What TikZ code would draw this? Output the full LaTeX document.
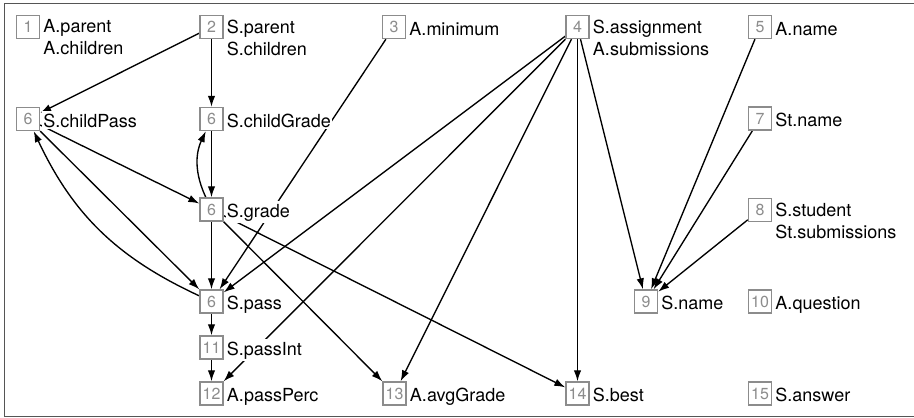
\documentclass[tikz,border=0pt]{standalone}
\usepackage{fontspec}
\setmainfont{TeX Gyre Heros}
\usetikzlibrary{arrows.meta,calc}
\pgfdeclarelayer{background}
\pgfsetlayers{background,main}
\definecolor{boxgray}{HTML}{8C8C8C}
\definecolor{framegray}{HTML}{555555}
\tikzset{
  idbox/.style={draw=boxgray, line width=1.4pt, fill=white, minimum size=23pt,
    inner sep=0pt, text=boxgray, font=\fontsize{16}{18}\selectfont},
  lbl/.style={anchor=north west, fill=white, inner sep=1pt, align=left,
    font=\fontsize{18}{22}\selectfont, execute at begin node={\rule{0pt}{15.4pt}}},
  dep/.style={line width=1.35pt, -{Latex[length=11pt,width=7.5pt]}}
}
\begin{document}
\begin{tikzpicture}[x=1pt,y=-1pt]
\useasboundingbox (0,0) rectangle (914,418);
\draw[framegray, line width=1.3pt] (4.5,3.3) rectangle (916,416.5);
% boxes
\node[idbox] (n1) at (28,27) {1};
\node[idbox] (n2) at (211.5,27) {2};
\node[idbox] (n3) at (394,27) {3};
\node[idbox] (n4) at (577.5,27) {4};
\node[idbox] (n5) at (760,27) {5};
\node[idbox] (c1) at (28,119) {6};
\node[idbox] (c2) at (211.5,119) {6};
\node[idbox] (n7) at (760,118.5) {7};
\node[idbox] (g) at (211.5,209.5) {6};
\node[idbox] (n8) at (760,210) {8};
\node[idbox] (p) at (211.5,301.5) {6};
\node[idbox] (n9) at (646,301.5) {9};
\node[idbox] (n10) at (760,301.5) {10};
\node[idbox] (n11) at (211.5,347.5) {11};
\node[idbox] (n12) at (211.5,393.5) {12};
\node[idbox] (n13) at (394.5,393.5) {13};
\node[idbox] (n14) at (577.5,393.5) {14};
\node[idbox] (n15) at (760,393.5) {15};
% labels
\node[lbl] (l1) at ($(n1.east)+(2,-8.4)$) {A.parent\\A.children};
\node[lbl] (l2) at ($(n2.east)+(2,-8.4)$) {S.parent\\S.children};
\node[lbl] (l3) at ($(n3.east)+(2,-8.4)$) {A.minimum};
\node[lbl] (l4) at ($(n4.east)+(2,-8.4)$) {S.assignment\\A.submissions};
\node[lbl] (l5) at ($(n5.east)+(2,-8.4)$) {A.name};
\node[lbl] (lc1) at ($(c1.east)+(2,-8.4)$) {S.childPass};
\node[lbl] (lc2) at ($(c2.east)+(2,-8.4)$) {S.childGrade};
\node[lbl] (l7) at ($(n7.east)+(2,-8.4)$) {St.name};
\node[lbl] (lg) at ($(g.east)+(2,-8.4)$) {S.grade};
\node[lbl] (l8) at ($(n8.east)+(2,-8.4)$) {S.student\\St.submissions};
\node[lbl] (lp) at ($(p.east)+(2,-8.4)$) {S.pass};
\node[lbl] (l9) at ($(n9.east)+(2,-8.4)$) {S.name};
\node[lbl] (l10) at ($(n10.east)+(2,-8.4)$) {A.question};
\node[lbl] (l11) at ($(n11.east)+(2,-8.4)$) {S.passInt};
\node[lbl] (l12) at ($(n12.east)+(2,-8.4)$) {A.passPerc};
\node[lbl] (l13) at ($(n13.east)+(2,-8.4)$) {A.avgGrade};
\node[lbl] (l14) at ($(n14.east)+(2,-8.4)$) {S.best};
\node[lbl] (l15) at ($(n15.east)+(2,-8.4)$) {S.answer};
% edges
\begin{pgfonlayer}{background}
\draw[dep] (n2) -- (c1);
\draw[dep] (n2) -- (c2);
\draw[dep] (c2) -- (g);
\draw[dep] (g) to[bend left=25] (c2);
\draw[dep] (c1) -- (g);
\draw[dep] (c1) -- (p);
\draw[dep] (p) to[bend left=20] (c1);
\draw[dep] (g) -- (p);
\draw[dep] (g) -- (n13);
\draw[dep] (g) -- (n14);
\draw[dep] (n3) -- (p);
\draw[dep] (n4) -- (p);
\draw[dep] (n4) -- (n12);
\draw[dep] (n4) -- (n13);
\draw[dep] (n4) -- (n14);
\draw[dep] (n4) -- (n9);
\draw[dep] (n5) -- (n9);
\draw[dep] (n7) -- (n9);
\draw[dep] (n8) -- (n9);
\draw[dep] (p) -- (n11);
\draw[dep] (n11) -- (n12);
\end{pgfonlayer}
\end{tikzpicture}
\end{document}
